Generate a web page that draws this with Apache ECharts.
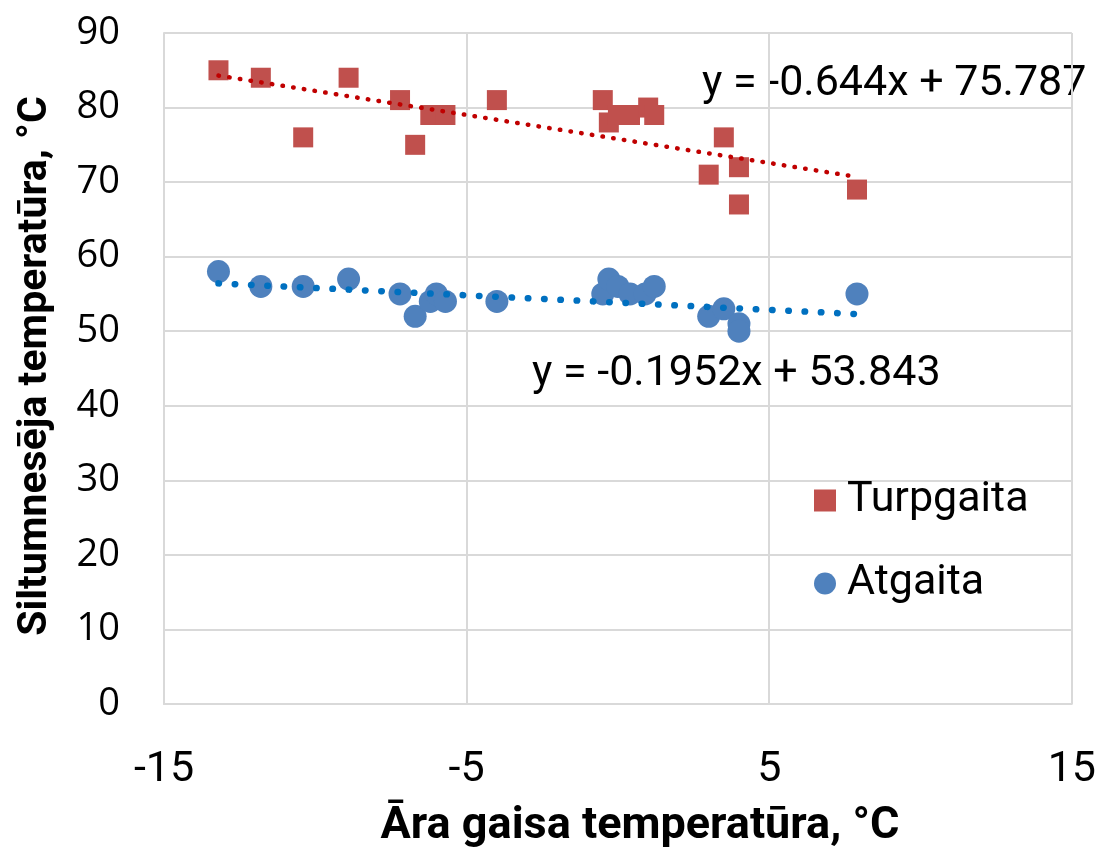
<!DOCTYPE html>
<html>
<head>
<meta charset="utf-8">
<style>
  html, body { margin: 0; padding: 0; background: #fff; }
  #chart { width: 1099px; height: 854px; }
</style>
<script src="https://cdn.jsdelivr.net/npm/echarts@6.0.0/dist/echarts.min.js"></script>
</head>
<body>
<div id="chart"></div>
<script>
// supply temperature (Turpgaita) vs outdoor air temperature
var turpX = [-13.2, -11.8, -10.4, -8.9, -7.2, -6.7, -6.2, -5.7, -4.0, -0.5, -0.3, 0.0, 0.4, 1.0, 1.2, 3.0, 3.5, 4.0, 4.0, 7.9];
var turpY = [85, 84, 76, 84, 81, 75, 79, 79, 81, 81, 78, 79, 79, 80, 79, 71, 76, 72, 67, 69];
// return temperature (Atgaita)
var atgX = [-13.2, -11.8, -10.4, -8.9, -7.2, -6.7, -6.2, -6.0, -5.7, -4.0, -0.5, -0.3, 0.0, 0.4, 0.9, 1.2, 3.0, 3.5, 4.0, 4.0, 7.9];
var atgY = [58, 56, 56, 57, 55, 52, 54, 55, 54, 54, 55, 57, 56, 55, 55, 56, 52, 53, 51, 50, 55];
// linear trend coefficients shown on the chart: [slope, intercept]
var turpTrend = [-0.644, 75.787];
var atgTrend = [-0.1952, 53.843];
var seriesNames = ['Turpgaita', 'Atgaita'];
var xTitle = 'Āra gaisa temperatūra, °C';
var yTitle = 'Siltumnesēja temperatūra, °C';

function pairs(xs, ys) {
    return xs.map(function (x, i) { return [x, ys[i]]; });
}
function trendLine(xs, coef) {
    var lo = Math.min.apply(null, xs), hi = Math.max.apply(null, xs);
    return [[lo, coef[0] * lo + coef[1]], [hi, coef[0] * hi + coef[1]]];
}
function eqText(coef) {
    return 'y = ' + coef[0] + 'x + ' + coef[1];
}

var chart = echarts.init(document.getElementById('chart'));
var gridColor = '#d9d9d9';
var font = 'Roboto, sans-serif';

var option = {
    animation: false,
    backgroundColor: '#fff',
    grid: { left: 164, right: 27, top: 33, bottom: 150 },
    xAxis: {
        type: 'value',
        min: -15, max: 15, interval: 10,
        axisLine: { show: true, onZero: false, lineStyle: { color: gridColor, width: 2 } },
        axisTick: { show: false },
        splitLine: { show: true, lineStyle: { color: gridColor, width: 2 } },
        axisLabel: { color: '#000', fontFamily: font, fontSize: 43, margin: 45 }
    },
    yAxis: {
        type: 'value',
        min: 0, max: 90, interval: 10,
        axisLine: { show: true, onZero: false, lineStyle: { color: gridColor, width: 2 } },
        axisTick: { show: false },
        splitLine: { show: true, lineStyle: { color: gridColor, width: 2 } },
        axisLabel: { color: '#000', fontFamily: '"Open Sans", sans-serif', fontSize: 38, margin: 44 }
    },
    legend: {
        orient: 'vertical',
        left: 809, top: 474,
        itemWidth: 22, itemHeight: 22,
        itemGap: 40,
        textStyle: { color: '#000', fontFamily: font, fontSize: 43, padding: [0, 0, 0, 6] },
        data: [
            { name: seriesNames[0], icon: 'rect' },
            { name: seriesNames[1], icon: 'circle' }
        ]
    },
    graphic: [
        { type: 'text', x: 702, y: 84, style: { text: eqText(turpTrend), fill: '#000', font: '43px Roboto, sans-serif', align: 'left', verticalAlign: 'middle' } },
        { type: 'text', x: 532, y: 374, style: { text: eqText(atgTrend), fill: '#000', font: '43px Roboto, sans-serif', align: 'left', verticalAlign: 'middle' } },
        { type: 'text', x: 640, y: 827, style: { text: xTitle, fill: '#000', font: 'bold 45px Roboto, sans-serif', align: 'center', verticalAlign: 'middle' } },
        { type: 'text', x: 36, y: 366, rotation: Math.PI / 2, style: { text: yTitle, fill: '#000', font: 'bold 41px Roboto, sans-serif', align: 'center', verticalAlign: 'middle' } }
    ],
    series: [
        {
            name: seriesNames[0], type: 'scatter', symbol: 'rect', symbolSize: 20,
            itemStyle: { color: '#c0504d', opacity: 1 },
            data: pairs(turpX, turpY), z: 2
        },
        {
            name: seriesNames[1], type: 'scatter', symbol: 'circle', symbolSize: 23,
            itemStyle: { color: '#4f81bd', opacity: 1 },
            data: pairs(atgX, atgY), z: 2
        },
        {
            name: 'trend1', type: 'line', symbol: 'none', silent: true, z: 5,
            lineStyle: { color: '#c00000', width: 4.5, type: [0.5, 10.3], cap: 'round' },
            data: trendLine(turpX, turpTrend)
        },
        {
            name: 'trend2', type: 'line', symbol: 'none', silent: true, z: 5,
            lineStyle: { color: '#0070c0', width: 6.5, type: [0.5, 15.8], cap: 'round' },
            data: trendLine(atgX, atgTrend)
        }
    ]
};
chart.setOption(option);
</script>
</body>
</html>
